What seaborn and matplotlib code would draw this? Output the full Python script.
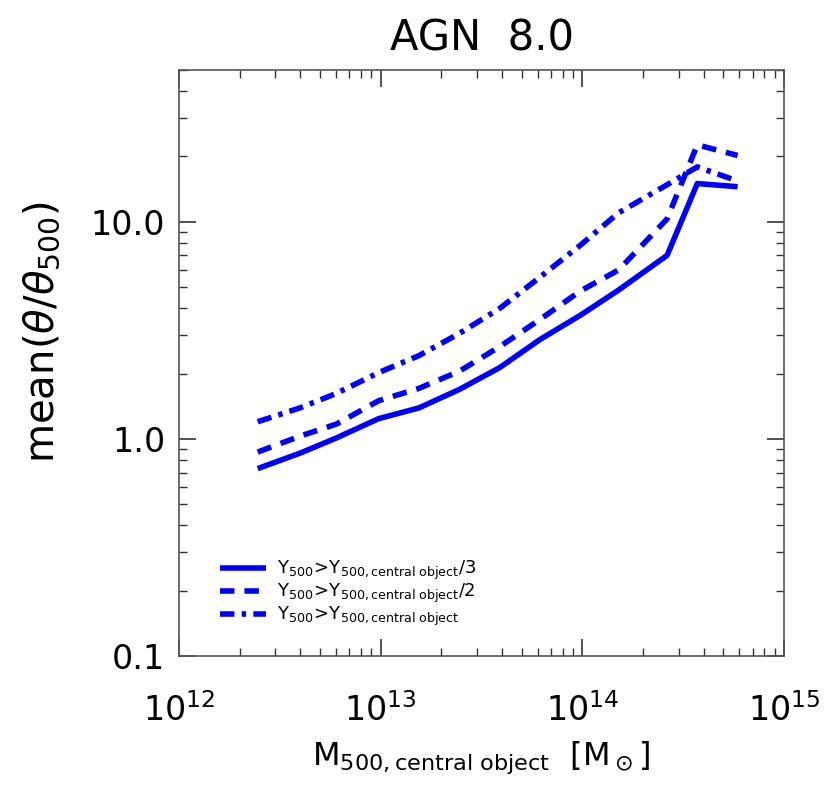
import numpy as np
import pandas as pd
import matplotlib
matplotlib.use('Agg')
import matplotlib.pyplot as plt
from matplotlib.ticker import LogLocator, FixedLocator, FixedFormatter, NullFormatter
import seaborn as sns

# log10 of M500 at bin centres
log_mass = [12.39, 12.60, 12.78, 12.99, 13.19, 13.39, 13.59, 13.79, 13.99, 14.18, 14.42, 14.57, 14.77]

# mean(theta/theta500) for the three Y500 thresholds
theta_third = [0.73, 0.86, 1.01, 1.24, 1.39, 1.69, 2.13, 2.87, 3.71, 4.85, 7.0, 15.0, 14.5]
theta_half = [0.87, 1.03, 1.17, 1.50, 1.71, 2.05, 2.66, 3.55, 4.8, 6.0, 10.3, 22.6, 20.2]
theta_full = [1.20, 1.39, 1.62, 2.02, 2.42, 3.06, 3.99, 5.56, 7.8, 11.0, 14.8, 17.9, 15.4]

labels = [r'$\mathregular{Y_{500}\!>\!Y_{500,central\ object}/3}$',
          r'$\mathregular{Y_{500}\!>\!Y_{500,central\ object}/2}$',
          r'$\mathregular{Y_{500}\!>\!Y_{500,central\ object}}$']

mass = 10 ** np.array(log_mass)
series = [theta_third, theta_half, theta_full]
dashes = [(None, None), (2.6, 1.8), (2.6, 1.3, 0.8, 1.3)]

sns.set_style('ticks')
plt.rcParams['font.family'] = ['DejaVu Sans']
plt.rcParams['mathtext.fontset'] = 'dejavusans'
plt.rcParams['text.color'] = 'black'
plt.rcParams['axes.labelcolor'] = 'black'

fig = plt.figure(figsize=(8.3, 8.09), dpi=100)
ax = fig.add_axes([0.2157, 0.189, 0.7289, 0.7245])

for vals, lab, d in zip(series, labels, dashes):
    df = pd.DataFrame({'mass': mass, 'theta': vals})
    sns.lineplot(data=df, x='mass', y='theta', ax=ax, color='#0000ff',
                 lw=4, label=lab)
    ln = ax.get_lines()[-1]
    if d[0] is not None:
        ln.set_dashes(d)
    ln.set_solid_capstyle('butt')
    ln.set_dash_capstyle('butt')

ax.set_xscale('log')
ax.set_yscale('log')
ax.set_xlim(1e12, 1e15)
ax.set_ylim(0.1, 50)

ax.xaxis.set_major_locator(LogLocator(base=10, numticks=10))
ax.xaxis.set_minor_locator(LogLocator(base=10, subs=np.arange(2, 10), numticks=10))
ax.xaxis.set_minor_formatter(NullFormatter())
ax.yaxis.set_major_locator(FixedLocator([0.1, 1.0, 10.0]))
ax.yaxis.set_major_formatter(FixedFormatter(['0.1', '1.0', '10.0']))
ax.yaxis.set_minor_locator(LogLocator(base=10, subs=np.arange(2, 10), numticks=10))
ax.yaxis.set_minor_formatter(NullFormatter())

ax.tick_params(which='both', direction='in', top=True, right=True, colors='#333333',
               labelcolor='black')
ax.tick_params(which='major', length=12, width=1.2)
ax.tick_params(which='minor', length=6, width=1.0)
ax.tick_params(axis='x', which='major', labelsize=24, pad=27)
ax.tick_params(axis='y', which='major', labelsize=24, pad=10)
for s in ax.spines.values():
    s.set_color('#555555')
    s.set_linewidth(1.2)

ax.set_title('AGN  8.0', fontsize=30, pad=14)
ax.set_xlabel(r'M$_{\mathregular{500,central\ object}}$  [M$_\odot$]', fontsize=23, labelpad=8)
ax.set_ylabel(r'mean($\theta$/$\theta_{\mathregular{500}}$)', fontsize=29)
ax.yaxis.set_label_coords(-0.192, 0.553)

ax.legend(loc='lower left', bbox_to_anchor=(0.055, 0.035), frameon=False, fontsize=13,
          handlelength=2.6, handletextpad=0.6, labelspacing=0.0, borderaxespad=0)

fig.savefig('out.png', dpi=100)
